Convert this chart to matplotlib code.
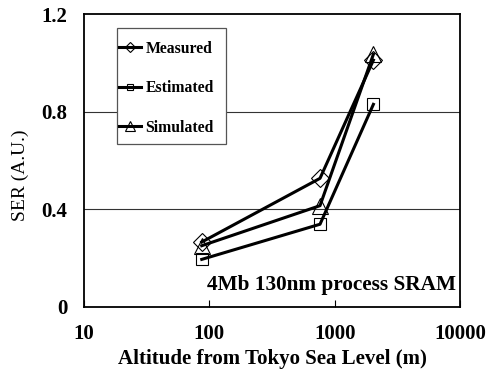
import matplotlib
matplotlib.use("Agg")
import matplotlib.pyplot as plt
from matplotlib.patches import Rectangle
from matplotlib.ticker import FixedLocator, NullLocator

plt.rcParams['font.family'] = ['Liberation Serif', 'DejaVu Serif']

# altitude (m) and soft error rate, arbitrary units
altitude = [87, 764, 2037]
measured = [0.266, 0.527, 1.011]
estimated = [0.195, 0.339, 0.830]
simulated = [0.251, 0.415, 1.035]

fig = plt.figure(figsize=(4.86, 3.69), dpi=100)
ax = fig.add_axes([84 / 486, 1 - 307 / 369, 376 / 486, 293 / 369])

style = dict(color='black', lw=2.2, markerfacecolor='none', markeredgecolor='black',
             markeredgewidth=0.8)
ax.plot(altitude, measured, marker='D', markersize=9, label='Measured', **style)
ax.plot(altitude, estimated, marker='s', markersize=8, label='Estimated', **style)
ax.plot(altitude, simulated, marker='^', markersize=11, label='Simulated', **style)

ax.set_xscale('log')
ax.set_xlim(10, 10000)
ax.set_ylim(0, 1.2)
ax.xaxis.set_major_locator(FixedLocator([10, 100, 1000, 10000]))
ax.xaxis.set_minor_locator(NullLocator())
ax.set_xticklabels(['10', '100', '1000', '10000'])
ax.set_yticks([0, 0.4, 0.8, 1.2])
ax.set_yticklabels(['0', '0.4', '0.8', '1.2'])
ax.tick_params(axis='x', direction='in', length=5, width=0.8, pad=12, labelsize=15)
ax.tick_params(axis='y', length=0, pad=12, labelsize=15)
for lab in ax.get_xticklabels() + ax.get_yticklabels():
    lab.set_fontweight('bold')

for yv in [0.4, 0.8]:
    ax.axhline(yv, color='#333333', lw=0.8, zorder=0)

for sp in ax.spines.values():
    sp.set_linewidth(1.3)

ax.set_xlabel('Altitude from Tokyo Sea Level (m)', fontsize=15, fontweight='bold')
ax.xaxis.set_label_coords(0.5, -0.145)
ax.set_ylabel('SER (A.U.)', fontsize=14)
ax.yaxis.set_label_coords(-0.146, 0.45)

ax.text(0.989, 0.058, '4Mb 130nm process SRAM', transform=ax.transAxes,
        ha='right', va='baseline', fontsize=15.3, fontweight='bold')

# legend box drawn separately so the entries can sit tight to its left edge
ax.add_patch(Rectangle((0.0878, 0.556), 0.29, 0.396, transform=ax.transAxes,
                       facecolor='white', edgecolor='#555555', lw=0.9, zorder=3))
leg = ax.legend(loc='center left', bbox_to_anchor=(0.093, 0.746), frameon=False,
                borderpad=0, borderaxespad=0, labelspacing=1.5,
                handlelength=1.4, handletextpad=0.3, markerscale=0.6,
                prop={'weight': 'bold', 'size': 11.3})
leg.set_zorder(4)

fig.savefig('out.png', dpi=100)
